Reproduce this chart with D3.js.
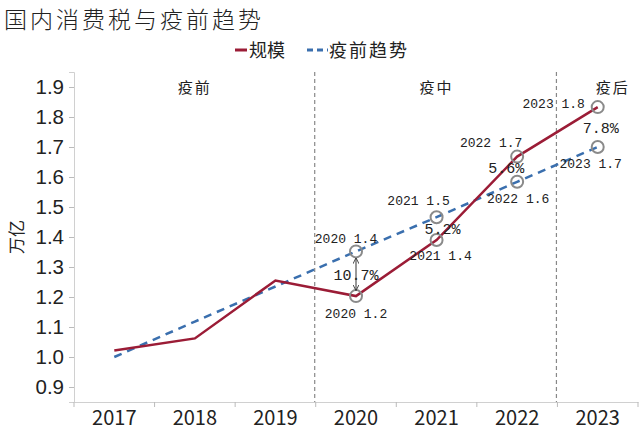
<!DOCTYPE html>
<html>
<head>
<meta charset="utf-8">
<script src="https://cdn.jsdelivr.net/npm/d3@7"></script>
<style>
  body { margin: 0; background: #fff; }
  svg { display: block; }
</style>
</head>
<body>
<div id="chart"></div>
<script>
// data
const years = ["2017", "2018", "2019", "2020", "2021", "2022", "2023"]
const scale = [1.022, 1.062, 1.255, 1.203, 1.39, 1.668, 1.833]      // 规模
const trend = [1.0, 1.118, 1.235, 1.352, 1.466, 1.584, 1.70]        // 疫前趋势
const yTicks = [0.9, 1.0, 1.1, 1.2, 1.3, 1.4, 1.5, 1.6, 1.7, 1.8, 1.9]
const gapYears = ["2020", "2021", "2022", "2023"]
const gapLabels = ["10.7%", "5.2%", "5.6%", "7.8%"]
const periods = ["疫前", "疫中", "疫后"]
const periodSplits = ["2020", "2023"]

const W = 640, H = 433
const margin = { left: 74, right: 2, top: 72, bottom: 31 }

const svg = d3.select("#chart").append("svg")
    .attr("width", W)
    .attr("height", H)
    .style("font-family", "'Noto Sans CJK SC', sans-serif")

const x = d3.scaleBand()
    .domain(years)
    .range([margin.left, W - margin.right])

const y = d3.scaleLinear()
    .domain([0.85, 1.95])
    .range([H - margin.bottom, margin.top])

const cx = d => x(d) + x.bandwidth() / 2

// title
svg.append("text")
    .attr("x", 4).attr("y", 28)
    .attr("font-size", 23)
    .attr("letter-spacing", 3)
    .attr("font-weight", 300)
    .attr("fill", "#222")
    .text("国内消费税与疫前趋势")

// legend
const lg = svg.append("g").attr("transform", "translate(0,50)")
lg.append("line").attr("x1", 235).attr("x2", 247).attr("y1", 0).attr("y2", 0)
    .attr("stroke", "#9b1c36").attr("stroke-width", 3)
lg.append("text").attr("x", 249).attr("y", 7).attr("font-size", 18).attr("fill", "#222").text("规模")
lg.append("line").attr("x1", 307).attr("x2", 328).attr("y1", 0).attr("y2", 0)
    .attr("stroke", "#3a6fae").attr("stroke-width", 3).attr("stroke-dasharray", "6,4")
lg.append("text").attr("x", 329).attr("y", 7).attr("font-size", 18).attr("letter-spacing", 2).attr("fill", "#222").text("疫前趋势")

// y axis
const yAxis = d3.axisLeft(y)
    .tickValues(yTicks)
    .tickFormat(d3.format(".1f"))
    .tickSize(5)
    .tickPadding(5)
const gy = svg.append("g")
    .attr("transform", "translate(" + margin.left + ",0)")
    .call(yAxis)
gy.select(".domain").attr("stroke", "#d0d0d0")
gy.selectAll(".tick line").attr("stroke", "#bbb")
gy.selectAll(".tick text")
    .attr("font-family", "'Liberation Sans', Arial, sans-serif")
    .attr("font-size", 20.5)
    .attr("fill", "#222")

svg.append("text")
    .attr("transform", "translate(23," + y(1.4) + ") rotate(-90)")
    .attr("text-anchor", "middle")
    .attr("font-size", 17)
    .attr("fill", "#222")
    .text("万亿")

// x axis
const xAxis = d3.axisBottom(x).tickSize(0).tickPadding(9)
const gx = svg.append("g")
    .attr("transform", "translate(0," + (H - margin.bottom) + ")")
    .call(xAxis)
gx.select(".domain").attr("stroke", "#d0d0d0")
gx.selectAll(".tick text")
    .attr("font-family", "'Noto Sans CJK SC', sans-serif")
    .attr("font-size", 20)
    .attr("fill", "#222")
gx.selectAll("line.bound")
    .data(years.concat(["end"]))
    .join("line")
    .attr("class", "bound")
    .attr("x1", (d, i) => margin.left + i * x.step())
    .attr("x2", (d, i) => margin.left + i * x.step())
    .attr("y1", 0).attr("y2", 5)
    .attr("stroke", "#bbb")

// period split lines and names
periodSplits.forEach(p => {
    svg.append("line")
        .attr("x1", x(p) - 1).attr("x2", x(p) - 1)
        .attr("y1", margin.top).attr("y2", H - margin.bottom)
        .attr("stroke", "#888").attr("stroke-width", 1.2)
        .attr("stroke-dasharray", "4,3")
})
const periodCenters = [
    (margin.left + x(periodSplits[0])) / 2,
    (x(periodSplits[0]) + x(periodSplits[1])) / 2,
    (x(periodSplits[1]) + W) / 2 + 14
]
svg.selectAll("text.period")
    .data(periods)
    .join("text")
    .attr("class", "period")
    .attr("x", (d, i) => periodCenters[i])
    .attr("y", 93)
    .attr("text-anchor", "middle")
    .attr("font-size", 15)
    .attr("letter-spacing", 2)
    .attr("fill", "#222")
    .text(d => d)

// lines
const line = d3.line().x((d, i) => cx(years[i])).y(d => y(d))
svg.append("path")
    .datum(trend)
    .attr("d", line)
    .attr("fill", "none")
    .attr("stroke", "#3a6fae")
    .attr("stroke-width", 2.5)
    .attr("stroke-dasharray", "8,6")
svg.append("path")
    .datum(scale)
    .attr("d", line)
    .attr("fill", "none")
    .attr("stroke", "#9b1c36")
    .attr("stroke-width", 2.5)

// highlighted points
const fmt = d3.format(".1f")
const marks = []
gapYears.forEach(yr => {
    const i = years.indexOf(yr)
    marks.push({ year: yr, v: scale[i], kind: "scale" })
    marks.push({ year: yr, v: trend[i], kind: "trend" })
})
svg.selectAll("circle.mark")
    .data(marks)
    .join("circle")
    .attr("class", "mark")
    .attr("cx", d => cx(d.year))
    .attr("cy", d => y(d.v))
    .attr("r", 6)
    .attr("fill", "none")
    .attr("stroke", "#8a8a8a")
    .attr("stroke-width", 2)

// label offsets (layout only)
const offs = {
    "2020scale": [0, 22], "2020trend": [-10, -8],
    "2021scale": [4, 20], "2021trend": [-18, -12],
    "2022scale": [-26, -10], "2022trend": [1, 21],
    "2023scale": [-44, 1], "2023trend": [-7, 21]
}
svg.selectAll("text.mlabel")
    .data(marks)
    .join("text")
    .attr("class", "mlabel")
    .attr("x", d => cx(d.year) + offs[d.year + d.kind][0])
    .attr("y", d => y(d.v) + offs[d.year + d.kind][1])
    .attr("text-anchor", "middle")
    .attr("font-family", "'Liberation Mono', monospace")
    .attr("font-size", 13)
    .attr("fill", "#222")
    .text(d => d.year + " " + fmt(d.v))

// gap percentages
const gapOffs = [[0, 6], [6, 5], [-11, 4], [3, 6]]
svg.selectAll("text.gap")
    .data(gapLabels)
    .join("text")
    .attr("class", "gap")
    .attr("x", (d, i) => cx(gapYears[i]) + gapOffs[i][0])
    .attr("y", (d, i) => {
        const k = years.indexOf(gapYears[i])
        return (y(scale[k]) + y(trend[k])) / 2 + gapOffs[i][1]
    })
    .attr("text-anchor", "middle")
    .attr("font-family", "'Liberation Mono', monospace")
    .attr("font-size", 15)
    .attr("fill", "#222")
    .text(d => d)

// double arrow for 2020 gap
svg.append("defs").append("marker")
    .attr("id", "ah")
    .attr("viewBox", "0 0 10 10")
    .attr("refX", 9).attr("refY", 5)
    .attr("markerWidth", 6).attr("markerHeight", 6)
    .attr("orient", "auto-start-reverse")
    .append("path").attr("d", "M0,0L10,5L0,10").attr("fill", "none").attr("stroke", "#333").attr("stroke-width", 1.5)
const i20 = years.indexOf("2020")
svg.append("line")
    .attr("x1", cx("2020")).attr("x2", cx("2020"))
    .attr("y1", y(trend[i20]) + 7).attr("y2", y(scale[i20]) - 6)
    .attr("stroke", "#333").attr("stroke-width", 1)
    .attr("marker-start", "url(#ah)")
    .attr("marker-end", "url(#ah)")
</script>
</body>
</html>
